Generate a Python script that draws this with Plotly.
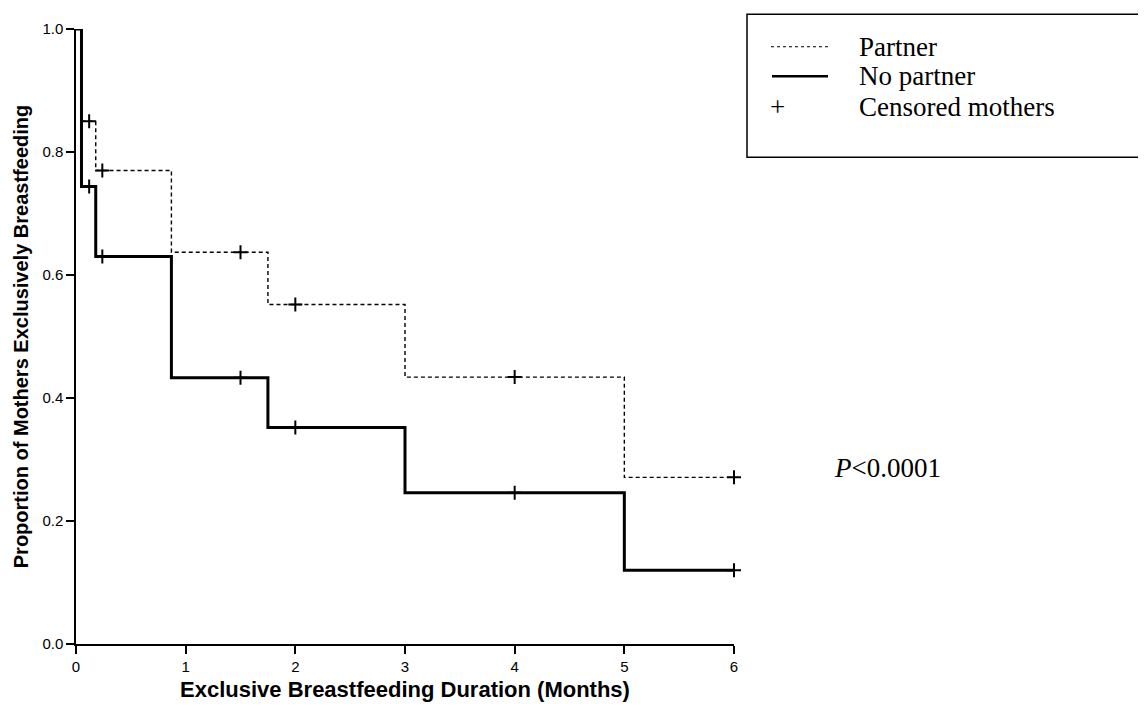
import plotly.graph_objects as go

# ---- data ----
partner_t = [0, 0.05, 0.18, 0.87, 1.75, 3.0, 5.0, 6.0]
partner_s = [1.0, 0.85, 0.77, 0.637, 0.552, 0.434, 0.271, 0.271]

nopartner_t = [0, 0.05, 0.18, 0.87, 1.75, 3.0, 5.0, 6.0]
nopartner_s = [1.0, 0.744, 0.630, 0.433, 0.352, 0.246, 0.120, 0.120]

censor_t = [0.12, 0.24, 1.5, 2.0, 4.0, 6.0]

x_ticks = [0, 1, 2, 3, 4, 5, 6]
y_ticks = [0.0, 0.2, 0.4, 0.6, 0.8, 1.0]
y_ticklabels = ["0.0", "0.2", "0.4", "0.6", "0.8", "1.0"]

x_title = "Exclusive Breastfeeding Duration (Months)"
y_title = "Proportion of Mothers Exclusively Breastfeeding"
legend_labels = ["Partner", "No partner", "Censored mothers"]
p_text = "<i>P</i><0.0001"


def step_value(ts, ss, t):
    v = ss[0]
    for ti, si in zip(ts, ss):
        if ti <= t:
            v = si
    return v


partner_c = [step_value(partner_t, partner_s, t) for t in censor_t]
nopartner_c = [step_value(nopartner_t, nopartner_s, t) for t in censor_t]

SANS = "Liberation Sans, Arial, sans-serif"
SERIF = "Liberation Serif, Times New Roman, serif"

fig = go.Figure()

fig.add_trace(go.Scatter(
    x=partner_t, y=partner_s, mode="lines", line_shape="hv",
    line=dict(color="black", width=1.4, dash="4px,3px"),
    name=legend_labels[0], showlegend=False, cliponaxis=False))
fig.add_trace(go.Scatter(
    x=nopartner_t, y=nopartner_s, mode="lines", line_shape="hv",
    line=dict(color="black", width=3),
    name=legend_labels[1], showlegend=False, cliponaxis=False))
fig.add_trace(go.Scatter(
    x=censor_t, y=partner_c, mode="markers",
    marker=dict(symbol="cross-thin", size=10, line=dict(color="black", width=2)),
    name=legend_labels[2], showlegend=False, cliponaxis=False))
fig.add_trace(go.Scatter(
    x=censor_t, y=nopartner_c, mode="markers",
    marker=dict(symbol="cross-thin", size=10, line=dict(color="black", width=2)),
    name=legend_labels[2], showlegend=False, cliponaxis=False))

# page offset from the HTML body margin
OFF = 8
# plot area in page pixels: x 76..734, y 22..646
L, R, T, B = 76, 734, 22, 646
W, H = 1146 - OFF, 710 - OFF


def px(xp):
    return (xp - L) / (R - L)


def py(yp):
    return (B - yp) / (B - T)


# hand-drawn legend box
shapes = [
    dict(type="rect", xref="paper", yref="paper",
         x0=px(747), x1=px(1143), y0=py(152), y1=py(7),
         line=dict(color="black", width=1.5), fillcolor="white", layer="below"),
    dict(type="line", xref="paper", yref="paper",
         x0=px(771), x1=px(830), y0=py(40), y1=py(40),
         line=dict(color="black", width=1, dash="3px,3px")),
    dict(type="line", xref="paper", yref="paper",
         x0=px(772), x1=px(828), y0=py(70), y1=py(70),
         line=dict(color="black", width=2.5)),
]

LEG_FS = 27
annotations = [
    dict(text=legend_labels[0], xref="paper", yref="paper", x=px(857), y=py(40),
         xanchor="left", yanchor="middle", showarrow=False,
         font=dict(family=SERIF, size=LEG_FS, color="black")),
    dict(text=legend_labels[1], xref="paper", yref="paper", x=px(857), y=py(70),
         xanchor="left", yanchor="middle", showarrow=False,
         font=dict(family=SERIF, size=LEG_FS, color="black")),
    dict(text=legend_labels[2], xref="paper", yref="paper", x=px(857), y=py(101),
         xanchor="left", yanchor="middle", showarrow=False,
         font=dict(family=SERIF, size=LEG_FS, color="black")),
    dict(text="+", xref="paper", yref="paper", x=px(777), y=py(101),
         xanchor="center", yanchor="middle", showarrow=False,
         font=dict(family=SERIF, size=LEG_FS, color="black")),
    dict(text=p_text, xref="paper", yref="paper", x=px(832), y=py(467),
         xanchor="left", yanchor="middle", showarrow=False,
         font=dict(family=SERIF, size=27, color="black")),
]

fig.update_layout(
    width=W, height=H,
    margin=dict(l=L - OFF, r=W - (R - OFF), t=T - OFF, b=H - (B - OFF), pad=0),
    paper_bgcolor="white", plot_bgcolor="white",
    showlegend=False,
    shapes=shapes, annotations=annotations,
    font=dict(family=SANS, color="black"),
)

fig.update_xaxes(
    range=[0, 6], tickvals=x_ticks, ticktext=[str(v) for v in x_ticks],
    showgrid=False, zeroline=False, showline=True, linecolor="black", linewidth=1.5,
    ticks="outside", ticklen=8, tickwidth=2, tickcolor="black",
    tickfont=dict(family=SANS, size=15, color="black"),
    title=dict(text="<b>" + x_title + "</b>", standoff=8,
               font=dict(family=SANS, size=22, color="black")),
)
fig.update_yaxes(
    range=[0, 1], tickvals=y_ticks, ticktext=y_ticklabels,
    showgrid=False, zeroline=False, showline=True, linecolor="black", linewidth=1.5,
    ticks="outside", ticklen=8, tickwidth=2, tickcolor="black",
    tickfont=dict(family=SANS, size=15, color="black"),
    title=dict(text="<b>" + y_title + "</b>", standoff=8,
               font=dict(family=SANS, size=20, color="black")),
)

fig.write_html("out.html")
